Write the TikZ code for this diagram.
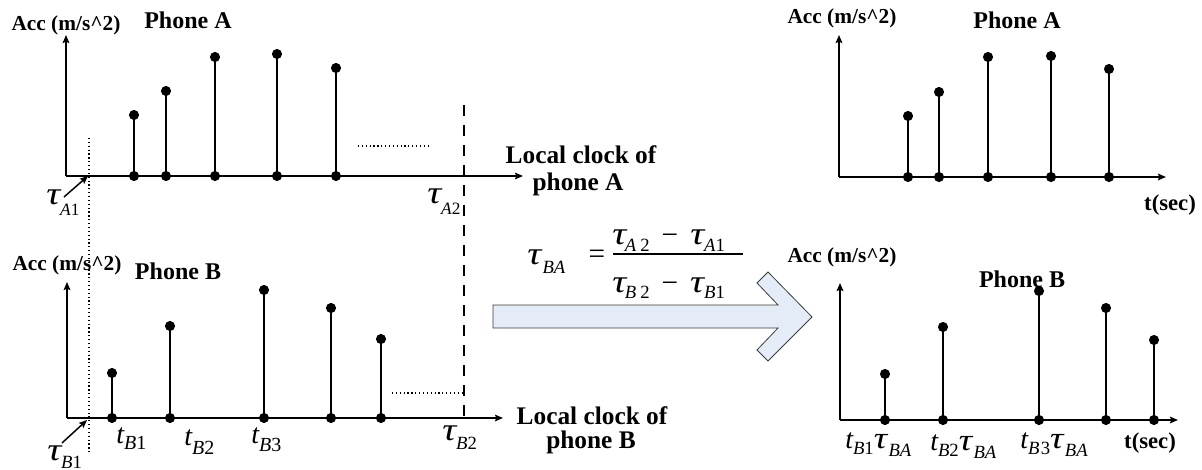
\documentclass[tikz,border=0pt]{standalone}
\usepackage{fontspec}
\setmainfont{Liberation Serif}
\usetikzlibrary{arrows.meta}
\definecolor{arrowfill}{RGB}{228,236,247}
\definecolor{arrowdraw}{RGB}{60,60,60}
\newcommand\fs[1]{\fontsize{#1}{#1}\selectfont}
\newcommand\sub[3]{\raisebox{#1}{\fs{#2}#3}}
\newcommand\tauglyph[1]{\scalebox{1.22}[1]{\fs{#1}\itshape τ}}
\newcommand\tglyph[1]{{\fs{#1}\itshape t}}
\tikzset{
  axisline/.style={line width=1.5pt,-{Stealth[length=6pt,width=5pt,inset=1pt]}},
  stemline/.style={line width=1.1pt},
  pointer/.style={line width=1.1pt,-{Stealth[length=6pt,width=5pt,inset=1pt]}},
  acclabel/.style={font=\fs{16}\bfseries,inner sep=0pt},
  phonelabel/.style={font=\fs{18}\bfseries,inner sep=0pt},
  clocklabel/.style={font=\fs{19}\bfseries,inner sep=0pt},
  seclabel/.style={font=\fs{17}\bfseries,inner sep=0pt},
  symlabel/.style={inner sep=0pt,anchor=base west},
  markerline/.style={line width=0.9pt,dotted},
  dashline/.style={line width=1pt,dash pattern=on 8pt off 7pt},
  dotmark/.style={radius=3.8pt},
}
\begin{document}
\begin{tikzpicture}[x=0.75pt,y=-0.75pt]
\useasboundingbox (0,0) rectangle (1202,470);

% ---------- top-left: Phone A ----------
\coordinate (AO) at (66,176);
\coordinate (AY) at (66,35);
\coordinate (AX) at (523,176);
\draw[axisline] (AO) -- (AY);
\draw[axisline] (AO) -- (AX);
\foreach \i/\x/\t in {1/134/115,2/166/91,3/215/57,4/277/54,5/336/68}{
  \coordinate (Ab\i) at (\x,176);
  \coordinate (At\i) at (\x,\t);
  \draw[stemline] (Ab\i) -- (At\i);
  \fill (Ab\i) circle[dotmark];
  \fill (At\i) circle[dotmark];
}
\node[acclabel] (accA) at (66,25) {Acc (m/s\^{}2)};
\node[phonelabel] (phA) at (188,20) {Phone A};
\node[clocklabel] (lcA1) at (581,155) {Local clock of};
\node[clocklabel] (lcA2) at (578,184) {phone A};
\coordinate (dotA1) at (358,146);
\coordinate (dotA2) at (430,146);
\draw[markerline] (dotA1) -- (dotA2);

% ---------- bottom-left: Phone B ----------
\coordinate (BO) at (67,418);
\coordinate (BY) at (67,282);
\coordinate (BX) at (503,418);
\draw[axisline] (BO) -- (BY);
\draw[axisline] (BO) -- (BX);
\foreach \i/\x/\t in {1/112/373,2/170/326,3/264/290,4/331/308,5/381/339}{
  \coordinate (Bb\i) at (\x,418);
  \coordinate (Bt\i) at (\x,\t);
  \draw[stemline] (Bb\i) -- (Bt\i);
  \fill (Bb\i) circle[dotmark];
  \fill (Bt\i) circle[dotmark];
}
\node[acclabel] (accB) at (67,265) {Acc (m/s\^{}2)};
\node[phonelabel] (phB) at (178,271) {Phone B};
\node[clocklabel] (lcB1) at (592,416) {Local clock of};
\node[clocklabel] (lcB2) at (591,442) {phone B};

% sync markers
\coordinate (tA1) at (89,138);
\coordinate (tB1end) at (89,455);
\draw[markerline] (tA1) -- (tB1end);
\coordinate (tA2) at (464,105);
\coordinate (tB2) at (464,418);
\draw[dashline] (tA2) -- (tB2);
\coordinate (dotB1) at (392,393);
\coordinate (dotB2) at (464,393);
\draw[markerline] (dotB1) -- (dotB2);

\coordinate (pA1s) at (64,197);
\coordinate (pA1e) at (88,176);
\draw[pointer] (pA1s) -- (pA1e);
\coordinate (pB1s) at (62,443);
\coordinate (pB1e) at (87,420);
\draw[pointer] (pB1s) -- (pB1e);

\node[symlabel] (tauA1) at (46,205) {\tauglyph{24}\sub{-8pt}{13}{\textit{A}1}};
\node[symlabel] (tauA2) at (427,204) {\tauglyph{24}\sub{-8pt}{13}{\textit{A}2}};
\node[symlabel] (tauB1) at (47,460) {\tauglyph{24}\sub{-6pt}{14}{\textit{B}1}};
\node[symlabel] (tauB2) at (442,440) {\tauglyph{24}\sub{-7pt}{14}{\textit{B}2}};
\node[symlabel] (tB1) at (116,443) {\tglyph{21}\sub{-5pt}{15}{\textit{B}1}};
\node[symlabel] (tB2) at (184,445) {\tglyph{21}\sub{-7pt}{15}{\textit{B}2}};
\node[symlabel] (tB3) at (251,443) {\tglyph{21}\sub{-6pt}{15}{\textit{B}3}};

% ---------- formula and big arrow ----------
\node[symlabel] (tauBA) at (527,265) {\tauglyph{24}\hspace{1pt}\sub{-6pt}{14}{\textit{BA}}};
\node[inner sep=0pt,font=\fs{22}] (eq) at (597,257) {=};
\node[symlabel] (num) at (612,245) {\tauglyph{24}\hspace{-1pt}\sub{-5pt}{14}{\textit{A}\hspace{3pt}2}\hspace{9pt}{\fs{22}−}\hspace{9pt}\tauglyph{24}\sub{-5pt}{14}{\textit{A}1}};
\node[symlabel] (den) at (612,292) {\tauglyph{24}\hspace{-1pt}\sub{-5pt}{14}{\textit{B}\hspace{3pt}2}\hspace{9pt}{\fs{22}−}\hspace{9pt}\tauglyph{24}\sub{-5pt}{14}{\textit{B}1}};
\coordinate (barL) at (613,254);
\coordinate (barR) at (743,254);
\draw[line width=0.8pt] (barL) -- (barR);

\draw[fill=arrowfill,draw=arrowdraw,line width=0.6pt]
  (493,305) -- (778,305) -- (757,283) -- (768,272) -- (812,317)
  -- (768,361) -- (757,350) -- (778,328) -- (493,328) -- cycle;

% ---------- top-right: Phone A ----------
\coordinate (CO) at (839,177);
\coordinate (CY) at (839,35);
\coordinate (CX) at (1166,177);
\draw[axisline] (CO) -- (CY);
\draw[axisline] (CO) -- (CX);
\foreach \i/\x/\t in {1/908/116,2/939/92,3/988/57,4/1051/56,5/1109/69}{
  \coordinate (Cb\i) at (\x,177);
  \coordinate (Ct\i) at (\x,\t);
  \draw[stemline] (Cb\i) -- (Ct\i);
  \fill (Cb\i) circle[dotmark];
  \fill (Ct\i) circle[dotmark];
}
\node[acclabel] (accC) at (842,18) {Acc (m/s\^{}2)};
\node[phonelabel] (phC) at (1017,20) {Phone A};
\node[seclabel] (secC) at (1170,205) {t(sec)};

% ---------- bottom-right: Phone B ----------
\coordinate (DO) at (840,420);
\coordinate (DY) at (840,283);
\coordinate (DX) at (1178,420);
\draw[axisline] (DO) -- (DY);
\draw[axisline] (DO) -- (DX);
\foreach \i/\x/\t in {1/885/374,2/943/327,3/1039/291,4/1106/308,5/1154/340}{
  \coordinate (Db\i) at (\x,420);
  \coordinate (Dt\i) at (\x,\t);
  \draw[stemline] (Db\i) -- (Dt\i);
  \fill (Db\i) circle[dotmark];
  \fill (Dt\i) circle[dotmark];
}
\node[acclabel] (accD) at (842,257) {Acc (m/s\^{}2)};
\node[phonelabel] (phD) at (1022,279) {Phone B};
\node[seclabel] (secD) at (1150,443) {t(sec)};
\node[symlabel] (rB1) at (845,448) {\tglyph{21}\sub{-5pt}{14}{\textit{B}1}\tauglyph{23}\hspace{1pt}\sub{-6pt}{14}{\textit{BA}}};
\node[symlabel] (rB2) at (930,450) {\tglyph{21}\sub{-5pt}{14}{\textit{B}2}\tauglyph{23}\hspace{1pt}\sub{-6pt}{14}{\textit{BA}}};
\node[symlabel] (rB3) at (1020,448) {\tglyph{21}\sub{-5pt}{14}{\textit{B}\hspace{1pt}3}\tauglyph{23}\hspace{1pt}\sub{-6pt}{14}{\textit{BA}}};
\end{tikzpicture}
\end{document}
